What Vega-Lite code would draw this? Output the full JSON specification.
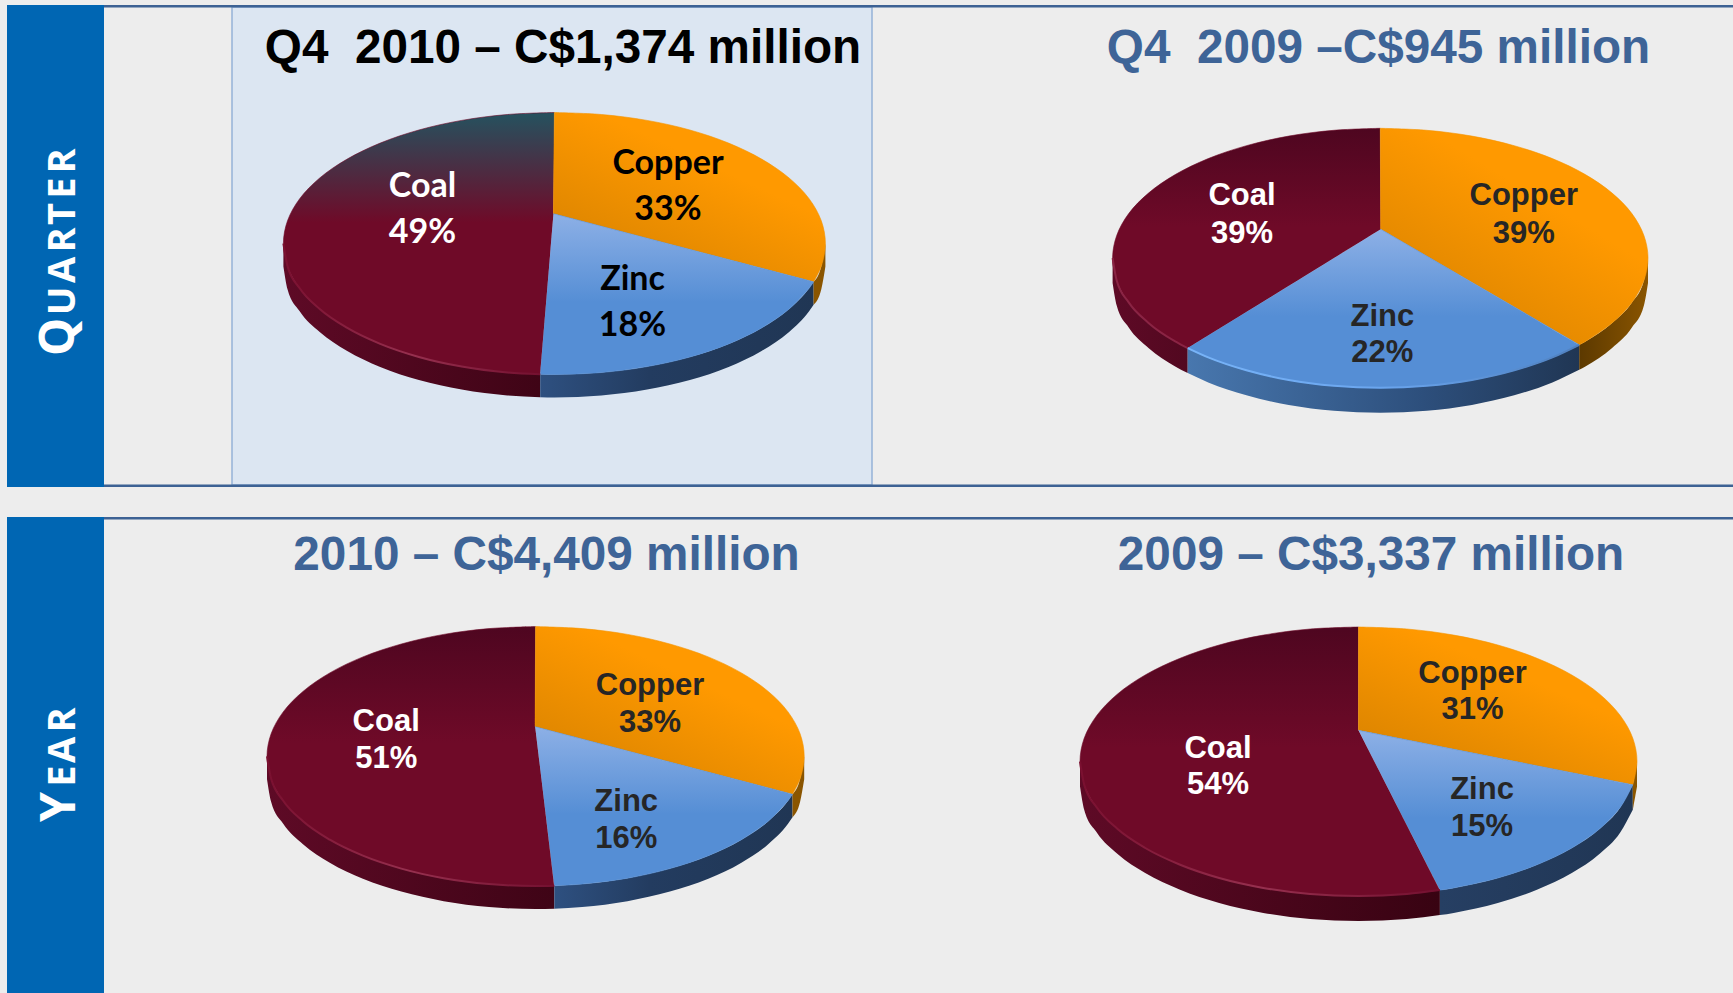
{"$schema":"https://vega.github.io/schema/vega-lite/v6.json","background":"#ededed","padding":{"left":7,"top":4,"right":0,"bottom":0},"columns":3,"spacing":{"row":30,"column":0},"bounds":"flush","resolve":{"scale":{"color":"independent"}},"config":{"view":{"stroke":null}},
"datasets":{
"wedges":[
{"chart":"Q4 2010","metal":"Coal","i":0,"x":553.5,"y":212.7},{"chart":"Q4 2010","metal":"Coal","i":0.5,"x":553.5,"y":212.7},{"chart":"Q4 2010","metal":"Coal","i":1,"x":540.2,"y":373.3},{"chart":"Q4 2010","metal":"Coal","i":1.5,"x":540.2,"y":373.3},{"chart":"Q4 2010","metal":"Coal","i":2,"x":507.4,"y":371.5},{"chart":"Q4 2010","metal":"Coal","i":3,"x":461.7,"y":365.6},{"chart":"Q4 2010","metal":"Coal","i":4,"x":418.9,"y":356},{"chart":"Q4 2010","metal":"Coal","i":5,"x":380.2,"y":342.9},{"chart":"Q4 2010","metal":"Coal","i":6,"x":346.8,"y":326.7},{"chart":"Q4 2010","metal":"Coal","i":7,"x":319.7,"y":308},{"chart":"Q4 2010","metal":"Coal","i":8,"x":299.7,"y":287.3},{"chart":"Q4 2010","metal":"Coal","i":9,"x":287.5,"y":265.2},{"chart":"Q4 2010","metal":"Coal","i":10,"x":283.4,"y":242.5},{"chart":"Q4 2010","metal":"Coal","i":11,"x":287.5,"y":219.8},{"chart":"Q4 2010","metal":"Coal","i":12,"x":299.7,"y":197.7},{"chart":"Q4 2010","metal":"Coal","i":13,"x":319.7,"y":177},{"chart":"Q4 2010","metal":"Coal","i":14,"x":346.8,"y":158.3},{"chart":"Q4 2010","metal":"Coal","i":15,"x":380.2,"y":142.1},{"chart":"Q4 2010","metal":"Coal","i":16,"x":418.9,"y":129},{"chart":"Q4 2010","metal":"Coal","i":17,"x":461.7,"y":119.4},{"chart":"Q4 2010","metal":"Coal","i":18,"x":507.4,"y":113.5},{"chart":"Q4 2010","metal":"Coal","i":19,"x":554.4,"y":111.5},{"chart":"Q4 2010","metal":"Coal","i":19.5,"x":554.4,"y":111.5},
{"chart":"Q4 2010","metal":"Copper","i":0,"x":553.5,"y":212.7},{"chart":"Q4 2010","metal":"Copper","i":0.5,"x":553.5,"y":212.7},{"chart":"Q4 2010","metal":"Copper","i":1,"x":554.4,"y":111.5},{"chart":"Q4 2010","metal":"Copper","i":1.5,"x":554.4,"y":111.5},{"chart":"Q4 2010","metal":"Copper","i":2,"x":601.4,"y":113.5},{"chart":"Q4 2010","metal":"Copper","i":3,"x":647.1,"y":119.4},{"chart":"Q4 2010","metal":"Copper","i":4,"x":689.9,"y":129},{"chart":"Q4 2010","metal":"Copper","i":5,"x":728.6,"y":142.1},{"chart":"Q4 2010","metal":"Copper","i":6,"x":762,"y":158.3},{"chart":"Q4 2010","metal":"Copper","i":7,"x":789.1,"y":177},{"chart":"Q4 2010","metal":"Copper","i":8,"x":809.1,"y":197.7},{"chart":"Q4 2010","metal":"Copper","i":9,"x":821.3,"y":219.8},{"chart":"Q4 2010","metal":"Copper","i":10,"x":825.4,"y":242.5},{"chart":"Q4 2010","metal":"Copper","i":11,"x":821.3,"y":265.2},{"chart":"Q4 2010","metal":"Copper","i":12,"x":813.6,"y":280.8},{"chart":"Q4 2010","metal":"Copper","i":12.5,"x":813.6,"y":280.8},
{"chart":"Q4 2010","metal":"Zinc","i":0,"x":553.5,"y":212.7},{"chart":"Q4 2010","metal":"Zinc","i":0.5,"x":553.5,"y":212.7},{"chart":"Q4 2010","metal":"Zinc","i":1,"x":813.6,"y":280.8},{"chart":"Q4 2010","metal":"Zinc","i":1.5,"x":813.6,"y":280.8},{"chart":"Q4 2010","metal":"Zinc","i":2,"x":809.1,"y":287.3},{"chart":"Q4 2010","metal":"Zinc","i":3,"x":789.1,"y":308},{"chart":"Q4 2010","metal":"Zinc","i":4,"x":762,"y":326.7},{"chart":"Q4 2010","metal":"Zinc","i":5,"x":728.6,"y":342.9},{"chart":"Q4 2010","metal":"Zinc","i":6,"x":689.9,"y":356},{"chart":"Q4 2010","metal":"Zinc","i":7,"x":647.1,"y":365.6},{"chart":"Q4 2010","metal":"Zinc","i":8,"x":601.4,"y":371.5},{"chart":"Q4 2010","metal":"Zinc","i":9,"x":554.4,"y":373.5},{"chart":"Q4 2010","metal":"Zinc","i":10,"x":540.2,"y":373.3},{"chart":"Q4 2010","metal":"Zinc","i":10.5,"x":540.2,"y":373.3},
{"chart":"Q4 2009","metal":"Coal","i":0,"x":1380.8,"y":228.3},{"chart":"Q4 2009","metal":"Coal","i":0.5,"x":1380.8,"y":228.3},{"chart":"Q4 2009","metal":"Coal","i":1,"x":1187.7,"y":347.1},{"chart":"Q4 2009","metal":"Coal","i":1.5,"x":1187.7,"y":347.1},{"chart":"Q4 2009","metal":"Coal","i":2,"x":1175.2,"y":340.4},{"chart":"Q4 2009","metal":"Coal","i":3,"x":1148.5,"y":321.9},{"chart":"Q4 2009","metal":"Coal","i":4,"x":1128.7,"y":301.4},{"chart":"Q4 2009","metal":"Coal","i":5,"x":1116.7,"y":279.5},{"chart":"Q4 2009","metal":"Coal","i":6,"x":1112.6,"y":257},{"chart":"Q4 2009","metal":"Coal","i":7,"x":1116.7,"y":234.5},{"chart":"Q4 2009","metal":"Coal","i":8,"x":1128.7,"y":212.6},{"chart":"Q4 2009","metal":"Coal","i":9,"x":1148.5,"y":192.1},{"chart":"Q4 2009","metal":"Coal","i":10,"x":1175.2,"y":173.6},{"chart":"Q4 2009","metal":"Coal","i":11,"x":1208.2,"y":157.6},{"chart":"Q4 2009","metal":"Coal","i":12,"x":1246.4,"y":144.7},{"chart":"Q4 2009","metal":"Coal","i":13,"x":1288.7,"y":135.1},{"chart":"Q4 2009","metal":"Coal","i":14,"x":1333.8,"y":129.3},{"chart":"Q4 2009","metal":"Coal","i":15,"x":1380.3,"y":127.3},{"chart":"Q4 2009","metal":"Coal","i":15.5,"x":1380.3,"y":127.3},
{"chart":"Q4 2009","metal":"Copper","i":0,"x":1380.8,"y":228.3},{"chart":"Q4 2009","metal":"Copper","i":0.5,"x":1380.8,"y":228.3},{"chart":"Q4 2009","metal":"Copper","i":1,"x":1380.3,"y":127.3},{"chart":"Q4 2009","metal":"Copper","i":1.5,"x":1380.3,"y":127.3},{"chart":"Q4 2009","metal":"Copper","i":2,"x":1426.8,"y":129.3},{"chart":"Q4 2009","metal":"Copper","i":3,"x":1471.9,"y":135.1},{"chart":"Q4 2009","metal":"Copper","i":4,"x":1514.2,"y":144.7},{"chart":"Q4 2009","metal":"Copper","i":5,"x":1552.4,"y":157.6},{"chart":"Q4 2009","metal":"Copper","i":6,"x":1585.4,"y":173.6},{"chart":"Q4 2009","metal":"Copper","i":7,"x":1612.1,"y":192.1},{"chart":"Q4 2009","metal":"Copper","i":8,"x":1631.9,"y":212.6},{"chart":"Q4 2009","metal":"Copper","i":9,"x":1643.9,"y":234.5},{"chart":"Q4 2009","metal":"Copper","i":10,"x":1648,"y":257},{"chart":"Q4 2009","metal":"Copper","i":11,"x":1643.9,"y":279.5},{"chart":"Q4 2009","metal":"Copper","i":12,"x":1631.9,"y":301.4},{"chart":"Q4 2009","metal":"Copper","i":13,"x":1612.1,"y":321.9},{"chart":"Q4 2009","metal":"Copper","i":14,"x":1585.4,"y":340.4},{"chart":"Q4 2009","metal":"Copper","i":15,"x":1579.2,"y":343.8},{"chart":"Q4 2009","metal":"Copper","i":15.5,"x":1579.2,"y":343.8},
{"chart":"Q4 2009","metal":"Zinc","i":0,"x":1380.8,"y":228.3},{"chart":"Q4 2009","metal":"Zinc","i":0.5,"x":1380.8,"y":228.3},{"chart":"Q4 2009","metal":"Zinc","i":1,"x":1579.2,"y":343.8},{"chart":"Q4 2009","metal":"Zinc","i":1.5,"x":1579.2,"y":343.8},{"chart":"Q4 2009","metal":"Zinc","i":2,"x":1552.4,"y":356.4},{"chart":"Q4 2009","metal":"Zinc","i":3,"x":1514.2,"y":369.3},{"chart":"Q4 2009","metal":"Zinc","i":4,"x":1471.9,"y":378.9},{"chart":"Q4 2009","metal":"Zinc","i":5,"x":1426.8,"y":384.7},{"chart":"Q4 2009","metal":"Zinc","i":6,"x":1380.3,"y":386.7},{"chart":"Q4 2009","metal":"Zinc","i":7,"x":1333.8,"y":384.7},{"chart":"Q4 2009","metal":"Zinc","i":8,"x":1288.7,"y":378.9},{"chart":"Q4 2009","metal":"Zinc","i":9,"x":1246.4,"y":369.3},{"chart":"Q4 2009","metal":"Zinc","i":10,"x":1208.2,"y":356.4},{"chart":"Q4 2009","metal":"Zinc","i":11,"x":1187.7,"y":347.1},{"chart":"Q4 2009","metal":"Zinc","i":11.5,"x":1187.7,"y":347.1},
{"chart":"2010","metal":"Coal","i":0,"x":535.2,"y":725.7},{"chart":"2010","metal":"Coal","i":0.5,"x":535.2,"y":725.7},{"chart":"2010","metal":"Coal","i":1,"x":554.3,"y":884.7},{"chart":"2010","metal":"Coal","i":1.5,"x":554.3,"y":884.7},{"chart":"2010","metal":"Coal","i":2,"x":535.6,"y":885},{"chart":"2010","metal":"Coal","i":3,"x":489,"y":883},{"chart":"2010","metal":"Coal","i":4,"x":443.7,"y":877.2},{"chart":"2010","metal":"Coal","i":5,"x":401.3,"y":867.6},{"chart":"2010","metal":"Coal","i":6,"x":362.9,"y":854.7},{"chart":"2010","metal":"Coal","i":7,"x":329.8,"y":838.7},{"chart":"2010","metal":"Coal","i":8,"x":303,"y":820.2},{"chart":"2010","metal":"Coal","i":9,"x":283.2,"y":799.7},{"chart":"2010","metal":"Coal","i":10,"x":271.1,"y":777.8},{"chart":"2010","metal":"Coal","i":11,"x":267,"y":755.3},{"chart":"2010","metal":"Coal","i":12,"x":271.1,"y":732.8},{"chart":"2010","metal":"Coal","i":13,"x":283.2,"y":710.9},{"chart":"2010","metal":"Coal","i":14,"x":303,"y":690.4},{"chart":"2010","metal":"Coal","i":15,"x":329.8,"y":671.9},{"chart":"2010","metal":"Coal","i":16,"x":362.9,"y":655.9},{"chart":"2010","metal":"Coal","i":17,"x":401.3,"y":643},{"chart":"2010","metal":"Coal","i":18,"x":443.7,"y":633.4},{"chart":"2010","metal":"Coal","i":19,"x":489,"y":627.6},{"chart":"2010","metal":"Coal","i":20,"x":535.6,"y":625.6},{"chart":"2010","metal":"Coal","i":20.5,"x":535.6,"y":625.6},
{"chart":"2010","metal":"Copper","i":0,"x":535.2,"y":725.7},{"chart":"2010","metal":"Copper","i":0.5,"x":535.2,"y":725.7},{"chart":"2010","metal":"Copper","i":1,"x":535.6,"y":625.6},{"chart":"2010","metal":"Copper","i":1.5,"x":535.6,"y":625.6},{"chart":"2010","metal":"Copper","i":2,"x":582.2,"y":627.6},{"chart":"2010","metal":"Copper","i":3,"x":627.5,"y":633.4},{"chart":"2010","metal":"Copper","i":4,"x":669.9,"y":643},{"chart":"2010","metal":"Copper","i":5,"x":708.3,"y":655.9},{"chart":"2010","metal":"Copper","i":6,"x":741.4,"y":671.9},{"chart":"2010","metal":"Copper","i":7,"x":768.2,"y":690.4},{"chart":"2010","metal":"Copper","i":8,"x":788,"y":710.9},{"chart":"2010","metal":"Copper","i":9,"x":800.1,"y":732.8},{"chart":"2010","metal":"Copper","i":10,"x":804.2,"y":755.3},{"chart":"2010","metal":"Copper","i":11,"x":800.1,"y":777.8},{"chart":"2010","metal":"Copper","i":12,"x":792.5,"y":793.2},{"chart":"2010","metal":"Copper","i":12.5,"x":792.5,"y":793.2},
{"chart":"2010","metal":"Zinc","i":0,"x":535.2,"y":725.7},{"chart":"2010","metal":"Zinc","i":0.5,"x":535.2,"y":725.7},{"chart":"2010","metal":"Zinc","i":1,"x":792.5,"y":793.2},{"chart":"2010","metal":"Zinc","i":1.5,"x":792.5,"y":793.2},{"chart":"2010","metal":"Zinc","i":2,"x":788,"y":799.7},{"chart":"2010","metal":"Zinc","i":3,"x":768.2,"y":820.2},{"chart":"2010","metal":"Zinc","i":4,"x":741.4,"y":838.7},{"chart":"2010","metal":"Zinc","i":5,"x":708.3,"y":854.7},{"chart":"2010","metal":"Zinc","i":6,"x":669.9,"y":867.6},{"chart":"2010","metal":"Zinc","i":7,"x":627.5,"y":877.2},{"chart":"2010","metal":"Zinc","i":8,"x":582.2,"y":883},{"chart":"2010","metal":"Zinc","i":9,"x":554.3,"y":884.7},{"chart":"2010","metal":"Zinc","i":9.5,"x":554.3,"y":884.7},
{"chart":"2009","metal":"Coal","i":0,"x":1358.5,"y":729.3},{"chart":"2009","metal":"Coal","i":0.5,"x":1358.5,"y":729.3},{"chart":"2009","metal":"Coal","i":1,"x":1439.9,"y":889.1},{"chart":"2009","metal":"Coal","i":1.5,"x":1439.9,"y":889.1},{"chart":"2009","metal":"Coal","i":2,"x":1406.8,"y":893},{"chart":"2009","metal":"Coal","i":3,"x":1358.5,"y":895},{"chart":"2009","metal":"Coal","i":4,"x":1310.2,"y":893},{"chart":"2009","metal":"Coal","i":5,"x":1263.3,"y":886.9},{"chart":"2009","metal":"Coal","i":6,"x":1219.2,"y":877},{"chart":"2009","metal":"Coal","i":7,"x":1179.5,"y":863.5},{"chart":"2009","metal":"Coal","i":8,"x":1145.2,"y":847},{"chart":"2009","metal":"Coal","i":9,"x":1117.3,"y":827.8},{"chart":"2009","metal":"Coal","i":10,"x":1096.8,"y":806.5},{"chart":"2009","metal":"Coal","i":11,"x":1084.2,"y":783.8},{"chart":"2009","metal":"Coal","i":12,"x":1080,"y":760.5},{"chart":"2009","metal":"Coal","i":13,"x":1084.2,"y":737.2},{"chart":"2009","metal":"Coal","i":14,"x":1096.8,"y":714.5},{"chart":"2009","metal":"Coal","i":15,"x":1117.3,"y":693.2},{"chart":"2009","metal":"Coal","i":16,"x":1145.2,"y":674},{"chart":"2009","metal":"Coal","i":17,"x":1179.5,"y":657.5},{"chart":"2009","metal":"Coal","i":18,"x":1219.2,"y":644},{"chart":"2009","metal":"Coal","i":19,"x":1263.3,"y":634.1},{"chart":"2009","metal":"Coal","i":20,"x":1310.2,"y":628},{"chart":"2009","metal":"Coal","i":21,"x":1358.5,"y":626},{"chart":"2009","metal":"Coal","i":21.5,"x":1358.5,"y":626},
{"chart":"2009","metal":"Copper","i":0,"x":1358.5,"y":729.3},{"chart":"2009","metal":"Copper","i":0.5,"x":1358.5,"y":729.3},{"chart":"2009","metal":"Copper","i":1,"x":1358.5,"y":626},{"chart":"2009","metal":"Copper","i":1.5,"x":1358.5,"y":626},{"chart":"2009","metal":"Copper","i":2,"x":1406.8,"y":628},{"chart":"2009","metal":"Copper","i":3,"x":1453.7,"y":634.1},{"chart":"2009","metal":"Copper","i":4,"x":1497.8,"y":644},{"chart":"2009","metal":"Copper","i":5,"x":1537.5,"y":657.5},{"chart":"2009","metal":"Copper","i":6,"x":1571.8,"y":674},{"chart":"2009","metal":"Copper","i":7,"x":1599.7,"y":693.2},{"chart":"2009","metal":"Copper","i":8,"x":1620.2,"y":714.5},{"chart":"2009","metal":"Copper","i":9,"x":1632.8,"y":737.2},{"chart":"2009","metal":"Copper","i":10,"x":1637,"y":760.5},{"chart":"2009","metal":"Copper","i":11,"x":1632.8,"y":783.8},{"chart":"2009","metal":"Copper","i":11.5,"x":1632.8,"y":783.8},
{"chart":"2009","metal":"Zinc","i":0,"x":1358.5,"y":729.3},{"chart":"2009","metal":"Zinc","i":0.5,"x":1358.5,"y":729.3},{"chart":"2009","metal":"Zinc","i":1,"x":1632.8,"y":783.8},{"chart":"2009","metal":"Zinc","i":1.5,"x":1632.8,"y":783.8},{"chart":"2009","metal":"Zinc","i":2,"x":1620.2,"y":806.5},{"chart":"2009","metal":"Zinc","i":3,"x":1599.7,"y":827.8},{"chart":"2009","metal":"Zinc","i":4,"x":1571.8,"y":847},{"chart":"2009","metal":"Zinc","i":5,"x":1537.5,"y":863.5},{"chart":"2009","metal":"Zinc","i":6,"x":1497.8,"y":877},{"chart":"2009","metal":"Zinc","i":7,"x":1453.7,"y":886.9},{"chart":"2009","metal":"Zinc","i":8,"x":1439.9,"y":889.1},{"chart":"2009","metal":"Zinc","i":8.5,"x":1439.9,"y":889.1}
],
"sides":[
{"chart":"Q4 2010","metal":"Coal","x":283.4,"y":242.5,"y2":265.5},{"chart":"Q4 2010","metal":"Coal","x":287.5,"y":265.2,"y2":288.2},{"chart":"Q4 2010","metal":"Coal","x":299.7,"y":287.3,"y2":310.3},{"chart":"Q4 2010","metal":"Coal","x":319.7,"y":308,"y2":331},{"chart":"Q4 2010","metal":"Coal","x":346.8,"y":326.7,"y2":349.7},{"chart":"Q4 2010","metal":"Coal","x":380.2,"y":342.9,"y2":365.9},{"chart":"Q4 2010","metal":"Coal","x":418.9,"y":356,"y2":379},{"chart":"Q4 2010","metal":"Coal","x":461.7,"y":365.6,"y2":388.6},{"chart":"Q4 2010","metal":"Coal","x":507.4,"y":371.5,"y2":394.5},{"chart":"Q4 2010","metal":"Coal","x":540.2,"y":373.3,"y2":396.3},
{"chart":"Q4 2010","metal":"Zinc","x":540.2,"y":373.3,"y2":396.3},{"chart":"Q4 2010","metal":"Zinc","x":554.4,"y":373.5,"y2":396.5},{"chart":"Q4 2010","metal":"Zinc","x":601.4,"y":371.5,"y2":394.5},{"chart":"Q4 2010","metal":"Zinc","x":647.1,"y":365.6,"y2":388.6},{"chart":"Q4 2010","metal":"Zinc","x":689.9,"y":356,"y2":379},{"chart":"Q4 2010","metal":"Zinc","x":728.6,"y":342.9,"y2":365.9},{"chart":"Q4 2010","metal":"Zinc","x":762,"y":326.7,"y2":349.7},{"chart":"Q4 2010","metal":"Zinc","x":789.1,"y":308,"y2":331},{"chart":"Q4 2010","metal":"Zinc","x":809.1,"y":287.3,"y2":310.3},{"chart":"Q4 2010","metal":"Zinc","x":813.6,"y":280.8,"y2":303.8},
{"chart":"Q4 2010","metal":"Copper","x":813.6,"y":280.8,"y2":303.8},{"chart":"Q4 2010","metal":"Copper","x":821.3,"y":265.2,"y2":288.2},{"chart":"Q4 2010","metal":"Copper","x":825.4,"y":242.5,"y2":265.5},
{"chart":"Q4 2009","metal":"Coal","x":1112.6,"y":257,"y2":282},{"chart":"Q4 2009","metal":"Coal","x":1116.7,"y":279.5,"y2":304.5},{"chart":"Q4 2009","metal":"Coal","x":1128.7,"y":301.4,"y2":326.4},{"chart":"Q4 2009","metal":"Coal","x":1148.5,"y":321.9,"y2":346.9},{"chart":"Q4 2009","metal":"Coal","x":1175.2,"y":340.4,"y2":365.4},{"chart":"Q4 2009","metal":"Coal","x":1187.7,"y":347.1,"y2":372.1},
{"chart":"Q4 2009","metal":"Zinc","x":1187.7,"y":347.1,"y2":372.1},{"chart":"Q4 2009","metal":"Zinc","x":1208.2,"y":356.4,"y2":381.4},{"chart":"Q4 2009","metal":"Zinc","x":1246.4,"y":369.3,"y2":394.3},{"chart":"Q4 2009","metal":"Zinc","x":1288.7,"y":378.9,"y2":403.9},{"chart":"Q4 2009","metal":"Zinc","x":1333.8,"y":384.7,"y2":409.7},{"chart":"Q4 2009","metal":"Zinc","x":1380.3,"y":386.7,"y2":411.7},{"chart":"Q4 2009","metal":"Zinc","x":1426.8,"y":384.7,"y2":409.7},{"chart":"Q4 2009","metal":"Zinc","x":1471.9,"y":378.9,"y2":403.9},{"chart":"Q4 2009","metal":"Zinc","x":1514.2,"y":369.3,"y2":394.3},{"chart":"Q4 2009","metal":"Zinc","x":1552.4,"y":356.4,"y2":381.4},{"chart":"Q4 2009","metal":"Zinc","x":1579.2,"y":343.8,"y2":368.8},
{"chart":"Q4 2009","metal":"Copper","x":1579.2,"y":343.8,"y2":368.8},{"chart":"Q4 2009","metal":"Copper","x":1585.4,"y":340.4,"y2":365.4},{"chart":"Q4 2009","metal":"Copper","x":1612.1,"y":321.9,"y2":346.9},{"chart":"Q4 2009","metal":"Copper","x":1631.9,"y":301.4,"y2":326.4},{"chart":"Q4 2009","metal":"Copper","x":1643.9,"y":279.5,"y2":304.5},{"chart":"Q4 2009","metal":"Copper","x":1648,"y":257,"y2":282},
{"chart":"2010","metal":"Coal","x":267,"y":755.3,"y2":778.3},{"chart":"2010","metal":"Coal","x":271.1,"y":777.8,"y2":800.8},{"chart":"2010","metal":"Coal","x":283.2,"y":799.7,"y2":822.7},{"chart":"2010","metal":"Coal","x":303,"y":820.2,"y2":843.2},{"chart":"2010","metal":"Coal","x":329.8,"y":838.7,"y2":861.7},{"chart":"2010","metal":"Coal","x":362.9,"y":854.7,"y2":877.7},{"chart":"2010","metal":"Coal","x":401.3,"y":867.6,"y2":890.6},{"chart":"2010","metal":"Coal","x":443.7,"y":877.2,"y2":900.2},{"chart":"2010","metal":"Coal","x":489,"y":883,"y2":906},{"chart":"2010","metal":"Coal","x":535.6,"y":885,"y2":908},{"chart":"2010","metal":"Coal","x":554.3,"y":884.7,"y2":907.7},
{"chart":"2010","metal":"Zinc","x":554.3,"y":884.7,"y2":907.7},{"chart":"2010","metal":"Zinc","x":582.2,"y":883,"y2":906},{"chart":"2010","metal":"Zinc","x":627.5,"y":877.2,"y2":900.2},{"chart":"2010","metal":"Zinc","x":669.9,"y":867.6,"y2":890.6},{"chart":"2010","metal":"Zinc","x":708.3,"y":854.7,"y2":877.7},{"chart":"2010","metal":"Zinc","x":741.4,"y":838.7,"y2":861.7},{"chart":"2010","metal":"Zinc","x":768.2,"y":820.2,"y2":843.2},{"chart":"2010","metal":"Zinc","x":788,"y":799.7,"y2":822.7},{"chart":"2010","metal":"Zinc","x":792.5,"y":793.2,"y2":816.2},
{"chart":"2010","metal":"Copper","x":792.5,"y":793.2,"y2":816.2},{"chart":"2010","metal":"Copper","x":800.1,"y":777.8,"y2":800.8},{"chart":"2010","metal":"Copper","x":804.2,"y":755.3,"y2":778.3},
{"chart":"2009","metal":"Coal","x":1080,"y":760.5,"y2":785.5},{"chart":"2009","metal":"Coal","x":1084.2,"y":783.8,"y2":808.8},{"chart":"2009","metal":"Coal","x":1096.8,"y":806.5,"y2":831.5},{"chart":"2009","metal":"Coal","x":1117.3,"y":827.8,"y2":852.8},{"chart":"2009","metal":"Coal","x":1145.2,"y":847,"y2":872},{"chart":"2009","metal":"Coal","x":1179.5,"y":863.5,"y2":888.5},{"chart":"2009","metal":"Coal","x":1219.2,"y":877,"y2":902},{"chart":"2009","metal":"Coal","x":1263.3,"y":886.9,"y2":911.9},{"chart":"2009","metal":"Coal","x":1310.2,"y":893,"y2":918},{"chart":"2009","metal":"Coal","x":1358.5,"y":895,"y2":920},{"chart":"2009","metal":"Coal","x":1406.8,"y":893,"y2":918},{"chart":"2009","metal":"Coal","x":1439.9,"y":889.1,"y2":914.1},
{"chart":"2009","metal":"Zinc","x":1439.9,"y":889.1,"y2":914.1},{"chart":"2009","metal":"Zinc","x":1453.7,"y":886.9,"y2":911.9},{"chart":"2009","metal":"Zinc","x":1497.8,"y":877,"y2":902},{"chart":"2009","metal":"Zinc","x":1537.5,"y":863.5,"y2":888.5},{"chart":"2009","metal":"Zinc","x":1571.8,"y":847,"y2":872},{"chart":"2009","metal":"Zinc","x":1599.7,"y":827.8,"y2":852.8},{"chart":"2009","metal":"Zinc","x":1620.2,"y":806.5,"y2":831.5},{"chart":"2009","metal":"Zinc","x":1632.8,"y":783.8,"y2":808.8},
{"chart":"2009","metal":"Copper","x":1632.8,"y":783.8,"y2":808.8},{"chart":"2009","metal":"Copper","x":1637,"y":760.5,"y2":785.5}
],
"labels":[
{"chart":"Q4 2010","metal":"Coal","share":0.49,"x":422.5,"y":185.5,"y2":231.7},{"chart":"Q4 2010","metal":"Copper","share":0.33,"x":668,"y":163,"y2":208.5},{"chart":"Q4 2010","metal":"Zinc","share":0.18,"x":632.5,"y":278.5,"y2":325},
{"chart":"Q4 2009","metal":"Coal","share":0.39,"x":1242,"y":195,"y2":232.7},{"chart":"Q4 2009","metal":"Copper","share":0.39,"x":1523.8,"y":195,"y2":232.7},{"chart":"Q4 2009","metal":"Zinc","share":0.22,"x":1382.3,"y":315.7,"y2":351.7},
{"chart":"2010","metal":"Coal","share":0.51,"x":386.2,"y":721,"y2":758.3},{"chart":"2010","metal":"Copper","share":0.33,"x":650,"y":685,"y2":721.7},{"chart":"2010","metal":"Zinc","share":0.16,"x":626.2,"y":801,"y2":837.7},
{"chart":"2009","metal":"Coal","share":0.54,"x":1218,"y":747.7,"y2":784},{"chart":"2009","metal":"Copper","share":0.31,"x":1472.5,"y":673.3,"y2":709.3},{"chart":"2009","metal":"Zinc","share":0.15,"x":1482,"y":789.3,"y2":826}
],
"titles":[
{"chart":"Q4 2010","title":"Q4\u00a0 2010 – C$1,374 million","x":563,"y":47.5},
{"chart":"Q4 2009","title":"Q4\u00a0 2009 –C$945 million","x":1378.5,"y":47.5},
{"chart":"2010","title":"2010 – C$4,409 million","x":546.5,"y":555},
{"chart":"2009","title":"2009 – C$3,337 million","x":1371,"y":555}
],
"frames":[
{"chart":"Q4 2010","x":104,"x2":872,"y":5.2},{"chart":"Q4 2010","x":104,"x2":872,"y":484.7},
{"chart":"Q4 2009","x":872,"x2":1733,"y":5.2},{"chart":"Q4 2009","x":872,"x2":1733,"y":484.7},
{"chart":"2010","x":104,"x2":872,"y":517.2},{"chart":"2009","x":872,"x2":1733,"y":517.2}
],
"highlight":[{"chart":"Q4 2010","x":232,"x2":872,"y":6,"y2":484}],
"strip":[
{"section":"Quarter","letter":"Q","rank":"initial","x":60,"y":336},{"section":"Quarter","letter":"U","rank":"rest","x":64,"y":300},{"section":"Quarter","letter":"A","rank":"rest","x":64,"y":269},{"section":"Quarter","letter":"R","rank":"rest","x":64,"y":239},{"section":"Quarter","letter":"T","rank":"rest","x":64,"y":213},{"section":"Quarter","letter":"E","rank":"rest","x":64,"y":187},{"section":"Quarter","letter":"R","rank":"rest","x":64,"y":160},
{"section":"Year","letter":"Y","rank":"initial","x":60.5,"y":806},{"section":"Year","letter":"E","rank":"rest","x":64,"y":775},{"section":"Year","letter":"A","rank":"rest","x":64,"y":749},{"section":"Year","letter":"R","rank":"rest","x":64,"y":719}
]},
"concat":[
{"width":97,"height":482,"view":{"fill":"#0066b3"},"data":{"name":"strip"},"transform":[{"filter":"datum.section==='Quarter'"}],"mark":{"type":"text","angle":270,"font":"Open Sans","fontWeight":700,"align":"center","baseline":"middle","fill":"#ffffff"},"encoding":{"x":{"field":"x","type":"quantitative","scale":{"domain":[7,104]},"axis":null},"y":{"field":"y","type":"quantitative","scale":{"domain":[486,4]},"axis":null},"text":{"field":"letter"},"size":{"field":"rank","type":"nominal","scale":{"domain":["initial","rest"],"range":[48,38]},"legend":null}}},
{"width":768,"height":482,"encoding":{"x":{"field":"x","type":"quantitative","scale":{"domain":[104,872]},"axis":null},"y":{"field":"y","type":"quantitative","scale":{"domain":[486,4]},"axis":null}},"layer":[
{"data":{"name":"highlight"},"mark":{"type":"rect","fill":"#dce6f2","stroke":"#95b3d7","strokeWidth":1.5},"encoding":{"x2":{"field":"x2"},"y2":{"field":"y2"}}},
{"data":{"name":"frames"},"transform":[{"filter":"datum.chart==='Q4 2010'"}],"mark":{"type":"rule","stroke":"#3d6294","strokeWidth":2.5},"encoding":{"x2":{"field":"x2"}}},
{"data":{"name":"sides"},"transform":[{"filter":"datum.chart==='Q4 2010'&&datum.metal==='Coal'"}],"mark":{"type":"area","interpolate":"monotone","fill":{"gradient":"linear","x1":0,"y1":0,"x2":1,"y2":0,"stops":[{"offset":0,"color":"#5e0a26"},{"offset":1,"color":"#3f0416"}]}},"encoding":{"y2":{"field":"y2"}}},
{"data":{"name":"sides"},"transform":[{"filter":"datum.chart==='Q4 2010'&&datum.metal==='Zinc'"}],"mark":{"type":"area","interpolate":"monotone","fill":{"gradient":"linear","x1":0,"y1":0,"x2":1,"y2":0,"stops":[{"offset":0,"color":"#2e5080"},{"offset":0.4,"color":"#233c60"},{"offset":1,"color":"#203654"}]}},"encoding":{"y2":{"field":"y2"}}},
{"data":{"name":"sides"},"transform":[{"filter":"datum.chart==='Q4 2010'&&datum.metal==='Copper'"}],"mark":{"type":"area","interpolate":"monotone","fill":"#8a5500"},"encoding":{"y2":{"field":"y2"}}},
{"data":{"name":"wedges"},"transform":[{"filter":"datum.chart==='Q4 2010'&&datum.metal==='Coal'"}],"mark":{"type":"line","interpolate":"catmull-rom","stroke":"#6f0a28","strokeWidth":0.6,"fill":{"gradient":"linear","x1":0,"y1":0,"x2":0,"y2":1,"stops":[{"offset":0,"color":"#25525f"},{"offset":0.42,"color":"#6f0a28"},{"offset":1,"color":"#6f0a28"}]}},"encoding":{"order":{"field":"i","type":"quantitative"}}},
{"data":{"name":"wedges"},"transform":[{"filter":"datum.chart==='Q4 2010'&&datum.metal==='Copper'"}],"mark":{"type":"line","interpolate":"catmull-rom","stroke":"#f59300","strokeWidth":0.6,"fill":{"gradient":"linear","x1":0.85,"y1":0.2,"x2":0.25,"y2":1,"stops":[{"offset":0.25,"color":"#ff9900"},{"offset":1,"color":"#d98300"}]}},"encoding":{"order":{"field":"i","type":"quantitative"}}},
{"data":{"name":"wedges"},"transform":[{"filter":"datum.chart==='Q4 2010'&&datum.metal==='Zinc'"}],"mark":{"type":"line","interpolate":"catmull-rom","stroke":"#558ed5","strokeWidth":0.6,"fill":{"gradient":"linear","x1":0,"y1":0,"x2":0,"y2":1,"stops":[{"offset":0,"color":"#8db0e6"},{"offset":0.55,"color":"#558ed5"},{"offset":1,"color":"#558ed5"}]}},"encoding":{"order":{"field":"i","type":"quantitative"}}},
{"data":{"name":"sides"},"transform":[{"filter":"datum.chart==='Q4 2010'&&datum.metal==='Coal'"}],"mark":{"type":"line","interpolate":"monotone","strokeWidth":2,"stroke":{"gradient":"linear","x1":0,"y1":0,"x2":1,"y2":0,"stops":[{"offset":0,"color":"#7a1030"},{"offset":0.5,"color":"#96304f"},{"offset":1,"color":"#741030"}]}}},
{"data":{"name":"titles"},"transform":[{"filter":"datum.chart==='Q4 2010'"}],"mark":{"type":"text","font":"Liberation Sans","fontWeight":"bold","fontSize":47.7,"align":"center","baseline":"middle","fill":"#000000"},"encoding":{"text":{"field":"title"}}},
{"data":{"name":"labels"},"transform":[{"filter":"datum.chart==='Q4 2010'"}],"mark":{"type":"text","font":"Lato","fontWeight":"bold","fontSize":34,"align":"center","baseline":"middle"},"encoding":{"text":{"field":"metal"},"color":{"field":"metal","type":"nominal","scale":{"domain":["Coal","Copper","Zinc"],"range":["#ffffff","#000000","#000000"]},"legend":null}}},
{"data":{"name":"labels"},"transform":[{"filter":"datum.chart==='Q4 2010'"}],"mark":{"type":"text","font":"Lato","fontWeight":"bold","fontSize":34,"align":"center","baseline":"middle"},"encoding":{"y":{"field":"y2","type":"quantitative","scale":{"domain":[486,4]},"axis":null},"text":{"field":"share","format":".0%"},"color":{"field":"metal","type":"nominal","scale":{"domain":["Coal","Copper","Zinc"],"range":["#ffffff","#000000","#000000"]},"legend":null}}}
]},
{"width":861,"height":482,"encoding":{"x":{"field":"x","type":"quantitative","scale":{"domain":[872,1733]},"axis":null},"y":{"field":"y","type":"quantitative","scale":{"domain":[486,4]},"axis":null}},"layer":[
{"data":{"name":"frames"},"transform":[{"filter":"datum.chart==='Q4 2009'"}],"mark":{"type":"rule","stroke":"#3d6294","strokeWidth":2.5},"encoding":{"x2":{"field":"x2"}}},
{"data":{"name":"sides"},"transform":[{"filter":"datum.chart==='Q4 2009'&&datum.metal==='Coal'"}],"mark":{"type":"area","interpolate":"monotone","fill":{"gradient":"linear","x1":0,"y1":0,"x2":1,"y2":0,"stops":[{"offset":0,"color":"#5e0a26"},{"offset":1,"color":"#520820"}]}},"encoding":{"y2":{"field":"y2"}}},
{"data":{"name":"sides"},"transform":[{"filter":"datum.chart==='Q4 2009'&&datum.metal==='Zinc'"}],"mark":{"type":"area","interpolate":"monotone","fill":{"gradient":"linear","x1":0,"y1":0,"x2":1,"y2":0,"stops":[{"offset":0,"color":"#4877ae"},{"offset":0.6,"color":"#2d4f7c"},{"offset":1,"color":"#203654"}]}},"encoding":{"y2":{"field":"y2"}}},
{"data":{"name":"sides"},"transform":[{"filter":"datum.chart==='Q4 2009'&&datum.metal==='Copper'"}],"mark":{"type":"area","interpolate":"monotone","fill":{"gradient":"linear","x1":0,"y1":0,"x2":1,"y2":0,"stops":[{"offset":0,"color":"#5c3900"},{"offset":1,"color":"#8a5500"}]}},"encoding":{"y2":{"field":"y2"}}},
{"data":{"name":"wedges"},"transform":[{"filter":"datum.chart==='Q4 2009'&&datum.metal==='Coal'"}],"mark":{"type":"line","interpolate":"catmull-rom","stroke":"#6f0a28","strokeWidth":0.6,"fill":{"gradient":"linear","x1":0,"y1":0,"x2":0,"y2":1,"stops":[{"offset":0,"color":"#4e0620"},{"offset":0.45,"color":"#6f0a28"},{"offset":1,"color":"#6f0a28"}]}},"encoding":{"order":{"field":"i","type":"quantitative"}}},
{"data":{"name":"wedges"},"transform":[{"filter":"datum.chart==='Q4 2009'&&datum.metal==='Copper'"}],"mark":{"type":"line","interpolate":"catmull-rom","stroke":"#f59300","strokeWidth":0.6,"fill":{"gradient":"linear","x1":0.85,"y1":0.2,"x2":0.25,"y2":1,"stops":[{"offset":0.25,"color":"#ff9900"},{"offset":1,"color":"#d98300"}]}},"encoding":{"order":{"field":"i","type":"quantitative"}}},
{"data":{"name":"wedges"},"transform":[{"filter":"datum.chart==='Q4 2009'&&datum.metal==='Zinc'"}],"mark":{"type":"line","interpolate":"catmull-rom","stroke":"#558ed5","strokeWidth":0.6,"fill":{"gradient":"linear","x1":0,"y1":0,"x2":0,"y2":1,"stops":[{"offset":0,"color":"#8db0e6"},{"offset":0.55,"color":"#558ed5"},{"offset":1,"color":"#558ed5"}]}},"encoding":{"order":{"field":"i","type":"quantitative"}}},
{"data":{"name":"sides"},"transform":[{"filter":"datum.chart==='Q4 2009'&&datum.metal==='Coal'"}],"mark":{"type":"line","interpolate":"monotone","strokeWidth":2,"stroke":"#8a2444"}},
{"data":{"name":"sides"},"transform":[{"filter":"datum.chart==='Q4 2009'&&datum.metal==='Zinc'"}],"mark":{"type":"line","interpolate":"monotone","strokeWidth":2,"stroke":{"gradient":"linear","x1":0,"y1":0,"x2":1,"y2":0,"stops":[{"offset":0,"color":"#78b4f8"},{"offset":0.5,"color":"#6aa5ee"},{"offset":1,"color":"#4f80bf"}]}}},
{"data":{"name":"titles"},"transform":[{"filter":"datum.chart==='Q4 2009'"}],"mark":{"type":"text","font":"Liberation Sans","fontWeight":"bold","fontSize":47.7,"align":"center","baseline":"middle","fill":"#3e6497"},"encoding":{"text":{"field":"title"}}},
{"data":{"name":"labels"},"transform":[{"filter":"datum.chart==='Q4 2009'"}],"mark":{"type":"text","font":"Liberation Sans","fontWeight":"bold","fontSize":31,"align":"center","baseline":"middle"},"encoding":{"text":{"field":"metal"},"color":{"field":"metal","type":"nominal","scale":{"domain":["Coal","Copper","Zinc"],"range":["#ffffff","#262626","#262626"]},"legend":null}}},
{"data":{"name":"labels"},"transform":[{"filter":"datum.chart==='Q4 2009'"}],"mark":{"type":"text","font":"Liberation Sans","fontWeight":"bold","fontSize":31,"align":"center","baseline":"middle"},"encoding":{"y":{"field":"y2","type":"quantitative","scale":{"domain":[486,4]},"axis":null},"text":{"field":"share","format":".0%"},"color":{"field":"metal","type":"nominal","scale":{"domain":["Coal","Copper","Zinc"],"range":["#ffffff","#262626","#262626"]},"legend":null}}}
]},
{"width":97,"height":477,"view":{"fill":"#0066b3"},"data":{"name":"strip"},"transform":[{"filter":"datum.section==='Year'"}],"mark":{"type":"text","angle":270,"font":"Open Sans","fontWeight":700,"align":"center","baseline":"middle","fill":"#ffffff"},"encoding":{"x":{"field":"x","type":"quantitative","scale":{"domain":[7,104]},"axis":null},"y":{"field":"y","type":"quantitative","scale":{"domain":[993,516]},"axis":null},"text":{"field":"letter"},"size":{"field":"rank","type":"nominal","scale":{"domain":["initial","rest"],"range":[48,38]},"legend":null}}},
{"width":768,"height":477,"encoding":{"x":{"field":"x","type":"quantitative","scale":{"domain":[104,872]},"axis":null},"y":{"field":"y","type":"quantitative","scale":{"domain":[993,516]},"axis":null}},"layer":[
{"data":{"name":"frames"},"transform":[{"filter":"datum.chart==='2010'"}],"mark":{"type":"rule","stroke":"#3d6294","strokeWidth":2.5},"encoding":{"x2":{"field":"x2"}}},
{"data":{"name":"sides"},"transform":[{"filter":"datum.chart==='2010'&&datum.metal==='Coal'"}],"mark":{"type":"area","interpolate":"monotone","fill":{"gradient":"linear","x1":0,"y1":0,"x2":1,"y2":0,"stops":[{"offset":0,"color":"#5e0a26"},{"offset":1,"color":"#3f0416"}]}},"encoding":{"y2":{"field":"y2"}}},
{"data":{"name":"sides"},"transform":[{"filter":"datum.chart==='2010'&&datum.metal==='Zinc'"}],"mark":{"type":"area","interpolate":"monotone","fill":{"gradient":"linear","x1":0,"y1":0,"x2":1,"y2":0,"stops":[{"offset":0,"color":"#2e5080"},{"offset":0.4,"color":"#233c60"},{"offset":1,"color":"#203654"}]}},"encoding":{"y2":{"field":"y2"}}},
{"data":{"name":"sides"},"transform":[{"filter":"datum.chart==='2010'&&datum.metal==='Copper'"}],"mark":{"type":"area","interpolate":"monotone","fill":"#8a5500"},"encoding":{"y2":{"field":"y2"}}},
{"data":{"name":"wedges"},"transform":[{"filter":"datum.chart==='2010'&&datum.metal==='Coal'"}],"mark":{"type":"line","interpolate":"catmull-rom","stroke":"#6f0a28","strokeWidth":0.6,"fill":{"gradient":"linear","x1":0,"y1":0,"x2":0,"y2":1,"stops":[{"offset":0,"color":"#4e0620"},{"offset":0.45,"color":"#6f0a28"},{"offset":1,"color":"#6f0a28"}]}},"encoding":{"order":{"field":"i","type":"quantitative"}}},
{"data":{"name":"wedges"},"transform":[{"filter":"datum.chart==='2010'&&datum.metal==='Copper'"}],"mark":{"type":"line","interpolate":"catmull-rom","stroke":"#f59300","strokeWidth":0.6,"fill":{"gradient":"linear","x1":0.85,"y1":0.2,"x2":0.25,"y2":1,"stops":[{"offset":0.25,"color":"#ff9900"},{"offset":1,"color":"#d98300"}]}},"encoding":{"order":{"field":"i","type":"quantitative"}}},
{"data":{"name":"wedges"},"transform":[{"filter":"datum.chart==='2010'&&datum.metal==='Zinc'"}],"mark":{"type":"line","interpolate":"catmull-rom","stroke":"#558ed5","strokeWidth":0.6,"fill":{"gradient":"linear","x1":0,"y1":0,"x2":0,"y2":1,"stops":[{"offset":0,"color":"#8db0e6"},{"offset":0.55,"color":"#558ed5"},{"offset":1,"color":"#558ed5"}]}},"encoding":{"order":{"field":"i","type":"quantitative"}}},
{"data":{"name":"sides"},"transform":[{"filter":"datum.chart==='2010'&&datum.metal==='Coal'"}],"mark":{"type":"line","interpolate":"monotone","strokeWidth":2,"stroke":{"gradient":"linear","x1":0,"y1":0,"x2":1,"y2":0,"stops":[{"offset":0,"color":"#7a1030"},{"offset":0.5,"color":"#96304f"},{"offset":1,"color":"#741030"}]}}},
{"data":{"name":"titles"},"transform":[{"filter":"datum.chart==='2010'"}],"mark":{"type":"text","font":"Liberation Sans","fontWeight":"bold","fontSize":47.7,"align":"center","baseline":"middle","fill":"#3e6497"},"encoding":{"text":{"field":"title"}}},
{"data":{"name":"labels"},"transform":[{"filter":"datum.chart==='2010'"}],"mark":{"type":"text","font":"Liberation Sans","fontWeight":"bold","fontSize":31,"align":"center","baseline":"middle"},"encoding":{"text":{"field":"metal"},"color":{"field":"metal","type":"nominal","scale":{"domain":["Coal","Copper","Zinc"],"range":["#ffffff","#262626","#262626"]},"legend":null}}},
{"data":{"name":"labels"},"transform":[{"filter":"datum.chart==='2010'"}],"mark":{"type":"text","font":"Liberation Sans","fontWeight":"bold","fontSize":31,"align":"center","baseline":"middle"},"encoding":{"y":{"field":"y2","type":"quantitative","scale":{"domain":[993,516]},"axis":null},"text":{"field":"share","format":".0%"},"color":{"field":"metal","type":"nominal","scale":{"domain":["Coal","Copper","Zinc"],"range":["#ffffff","#262626","#262626"]},"legend":null}}}
]},
{"width":861,"height":477,"encoding":{"x":{"field":"x","type":"quantitative","scale":{"domain":[872,1733]},"axis":null},"y":{"field":"y","type":"quantitative","scale":{"domain":[993,516]},"axis":null}},"layer":[
{"data":{"name":"frames"},"transform":[{"filter":"datum.chart==='2009'"}],"mark":{"type":"rule","stroke":"#3d6294","strokeWidth":2.5},"encoding":{"x2":{"field":"x2"}}},
{"data":{"name":"sides"},"transform":[{"filter":"datum.chart==='2009'&&datum.metal==='Coal'"}],"mark":{"type":"area","interpolate":"monotone","fill":{"gradient":"linear","x1":0,"y1":0,"x2":1,"y2":0,"stops":[{"offset":0,"color":"#5e0a26"},{"offset":1,"color":"#380312"}]}},"encoding":{"y2":{"field":"y2"}}},
{"data":{"name":"sides"},"transform":[{"filter":"datum.chart==='2009'&&datum.metal==='Zinc'"}],"mark":{"type":"area","interpolate":"monotone","fill":{"gradient":"linear","x1":0,"y1":0,"x2":1,"y2":0,"stops":[{"offset":0,"color":"#263f63"},{"offset":1,"color":"#203654"}]}},"encoding":{"y2":{"field":"y2"}}},
{"data":{"name":"sides"},"transform":[{"filter":"datum.chart==='2009'&&datum.metal==='Copper'"}],"mark":{"type":"area","interpolate":"monotone","fill":"#8a5500"},"encoding":{"y2":{"field":"y2"}}},
{"data":{"name":"wedges"},"transform":[{"filter":"datum.chart==='2009'&&datum.metal==='Coal'"}],"mark":{"type":"line","interpolate":"catmull-rom","stroke":"#6f0a28","strokeWidth":0.6,"fill":{"gradient":"linear","x1":0,"y1":0,"x2":0,"y2":1,"stops":[{"offset":0,"color":"#4e0620"},{"offset":0.45,"color":"#6f0a28"},{"offset":1,"color":"#6f0a28"}]}},"encoding":{"order":{"field":"i","type":"quantitative"}}},
{"data":{"name":"wedges"},"transform":[{"filter":"datum.chart==='2009'&&datum.metal==='Copper'"}],"mark":{"type":"line","interpolate":"catmull-rom","stroke":"#f59300","strokeWidth":0.6,"fill":{"gradient":"linear","x1":0.85,"y1":0.2,"x2":0.25,"y2":1,"stops":[{"offset":0.25,"color":"#ff9900"},{"offset":1,"color":"#d98300"}]}},"encoding":{"order":{"field":"i","type":"quantitative"}}},
{"data":{"name":"wedges"},"transform":[{"filter":"datum.chart==='2009'&&datum.metal==='Zinc'"}],"mark":{"type":"line","interpolate":"catmull-rom","stroke":"#558ed5","strokeWidth":0.6,"fill":{"gradient":"linear","x1":0,"y1":0,"x2":0,"y2":1,"stops":[{"offset":0,"color":"#8db0e6"},{"offset":0.55,"color":"#558ed5"},{"offset":1,"color":"#558ed5"}]}},"encoding":{"order":{"field":"i","type":"quantitative"}}},
{"data":{"name":"sides"},"transform":[{"filter":"datum.chart==='2009'&&datum.metal==='Coal'"}],"mark":{"type":"line","interpolate":"monotone","strokeWidth":2,"stroke":{"gradient":"linear","x1":0,"y1":0,"x2":1,"y2":0,"stops":[{"offset":0,"color":"#7a1030"},{"offset":0.5,"color":"#96304f"},{"offset":1,"color":"#741030"}]}}},
{"data":{"name":"titles"},"transform":[{"filter":"datum.chart==='2009'"}],"mark":{"type":"text","font":"Liberation Sans","fontWeight":"bold","fontSize":47.7,"align":"center","baseline":"middle","fill":"#3e6497"},"encoding":{"text":{"field":"title"}}},
{"data":{"name":"labels"},"transform":[{"filter":"datum.chart==='2009'"}],"mark":{"type":"text","font":"Liberation Sans","fontWeight":"bold","fontSize":31,"align":"center","baseline":"middle"},"encoding":{"text":{"field":"metal"},"color":{"field":"metal","type":"nominal","scale":{"domain":["Coal","Copper","Zinc"],"range":["#ffffff","#262626","#262626"]},"legend":null}}},
{"data":{"name":"labels"},"transform":[{"filter":"datum.chart==='2009'"}],"mark":{"type":"text","font":"Liberation Sans","fontWeight":"bold","fontSize":31,"align":"center","baseline":"middle"},"encoding":{"y":{"field":"y2","type":"quantitative","scale":{"domain":[993,516]},"axis":null},"text":{"field":"share","format":".0%"},"color":{"field":"metal","type":"nominal","scale":{"domain":["Coal","Copper","Zinc"],"range":["#ffffff","#262626","#262626"]},"legend":null}}}
]}
]}
